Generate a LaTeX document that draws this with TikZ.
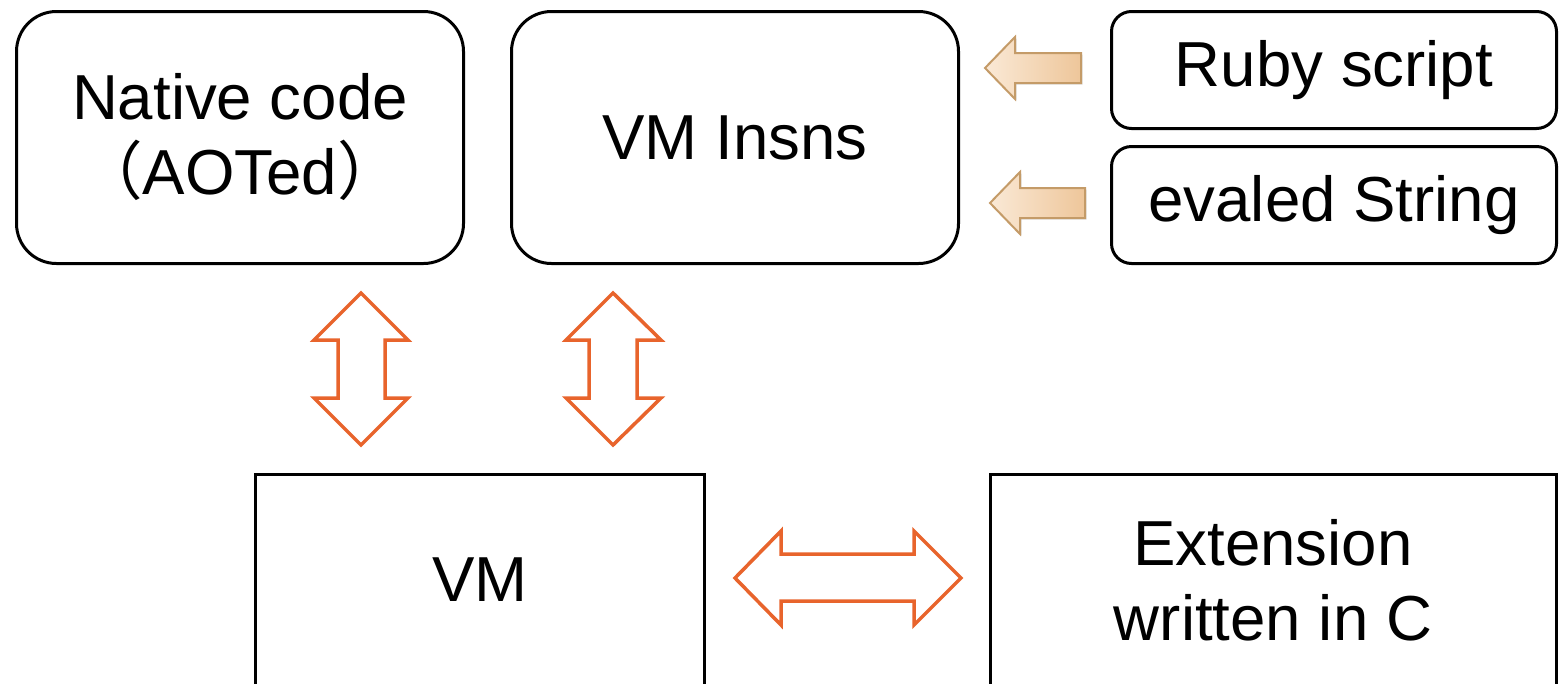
\documentclass[tikz,border=0pt]{standalone}
\usepackage{fontspec}
\setmainfont{Liberation Sans}
\newfontfamily\cjkfont{Noto Sans CJK JP}
\usetikzlibrary{shadows}

\definecolor{arrowred}{HTML}{E8642C}
\definecolor{tanlight}{HTML}{FAE9D6}
\definecolor{tandark}{HTML}{EEC69A}
\definecolor{tanedge}{HTML}{C49B68}

\tikzset{
    bigbox/.style={draw, line width=3pt, rounded corners=40pt, minimum width=447pt, minimum height=252pt, align=center},
    srcbox/.style={draw, line width=3pt, rounded corners=20pt, minimum width=445pt, minimum height=117pt},
    flatbox/.style={draw, line width=3pt, minimum height=211pt, align=center},
    dblarrow/.style={draw=arrowred, line width=3.5pt, line join=miter},
    inarrow/.style={left color=tanlight, right color=tandark, draw=tanedge, line width=2pt,
        drop shadow={opacity=0.25, shadow xshift=1.5pt, shadow yshift=-1.5pt}},
}

\begin{document}
\begin{tikzpicture}[x=1pt, y=-1pt, font=\fontsize{63.6pt}{75pt}\selectfont]
    \useasboundingbox (0,0) rectangle (1560,683);
    \clip (0,0) rectangle (1560,683);
    %
    \node[bigbox] (native) at (240,137.5) {Native code\\{\cjkfont （}AOTed{\cjkfont ）}};
    \node[bigbox] (insns) at (735,137.5) {VM Insns};
    \node[srcbox] (ruby) at (1334,70) {Ruby script};
    \node[srcbox] (evaled) at (1334,205) {evaled String};
    \node[flatbox, minimum width=449pt] (vm) at (480,580) {VM};
    \node[flatbox, minimum width=566pt] (ext) at (1273,580) {Extension\\written in C};
    %
    \draw[inarrow] (985,68) -- (1015,37) -- (1015,53) -- (1081,53) -- (1081,83) -- (1015,83) -- (1015,99) -- cycle;
    \draw[inarrow] (990,203) -- (1020,172) -- (1020,188) -- (1085,188) -- (1085,218) -- (1020,218) -- (1020,234) -- cycle;
    %
    \draw[dblarrow] (361,293) -- (408,340) -- (385,340) -- (385,398) -- (408,398) -- (361,445)
        -- (314,398) -- (338,398) -- (338,340) -- (314,340) -- cycle;
    \draw[dblarrow] (613,293) -- (661,340) -- (637,340) -- (637,398) -- (661,398) -- (613,445)
        -- (566,398) -- (589,398) -- (589,340) -- (566,340) -- cycle;
    \draw[dblarrow] (735,578) -- (781,531) -- (781,554) -- (914,554) -- (914,531) -- (961,578)
        -- (914,625) -- (914,601) -- (781,601) -- (781,625) -- cycle;
\end{tikzpicture}
\end{document}
